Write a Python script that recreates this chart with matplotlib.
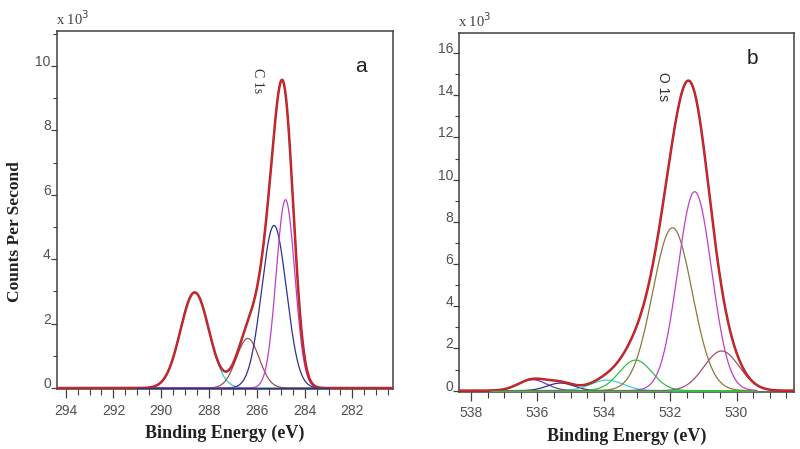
import numpy as np
import matplotlib
matplotlib.use("Agg")
import matplotlib.pyplot as plt
from matplotlib.ticker import MultipleLocator

# C 1s peak fit (panel a), intensities in x10^3 counts/s
c1s_center = [288.60, 286.38, 285.28, 284.80]
c1s_height = [2.97, 1.54, 5.05, 5.85]
c1s_fwhm = [1.40, 1.12, 1.22, 0.92]
c1s_colors = ["#30d0c8", "#a0504c", "#303090", "#c040c8"]

# O 1s peak fit (panel b)
o1s_center = [536.15, 535.30, 533.90, 533.04, 531.93, 531.26, 530.45]
o1s_height = [0.52, 0.36, 0.50, 1.45, 7.72, 9.43, 1.88]
o1s_fwhm = [1.00, 0.95, 1.15, 1.15, 1.40, 1.20, 1.25]
o1s_colors = ["#7040a0", "#303080", "#40d0d0", "#30c040", "#8a7a3a", "#c040c8", "#a05070"]

plt.rcParams["font.family"] = ["Liberation Sans", "DejaVu Sans"]
SERIF = ["Liberation Serif", "DejaVu Serif"]


def gauss(x, c, h, w):
    s = w / 2.3548
    return h * np.exp(-(x - c) ** 2 / (2 * s * s))


def draw_panel(ax, centers, heights, fwhms, colors, xlim, comp_range, ylim, base_color):
    x = np.linspace(xlim[0], xlim[1], 1500)
    xc = np.linspace(comp_range[0], comp_range[1], 1000)
    total = np.zeros_like(x)
    for c, h, w in zip(centers, heights, fwhms):
        total += gauss(x, c, h, w)
    for c, h, w, col in zip(centers, heights, fwhms, colors):
        ax.plot(xc, gauss(xc, c, h, w), color=col, lw=0.9, zorder=2)
    # measured data + envelope
    ax.plot(x, total, color="#9a2a2a", lw=1.8, zorder=4)
    ax.plot(x, total, color="#e8202a", lw=0.8, zorder=5)
    # baseline of the fit components (drawn on top)
    ax.plot(xc, np.zeros_like(xc), color=base_color, lw=1.0, zorder=6)
    ax.set_xlim(xlim)
    ax.set_ylim(ylim)
    ax.xaxis.set_major_locator(MultipleLocator(2))
    ax.xaxis.set_minor_locator(MultipleLocator(0.5))
    ax.yaxis.set_major_locator(MultipleLocator(2))
    ax.yaxis.set_minor_locator(MultipleLocator(1))
    ax.tick_params(axis="x", which="major", length=6.5, width=0.9, color="#404040",
                   labelsize=10, labelcolor="#505050", pad=4)
    ax.tick_params(axis="x", which="minor", length=4, width=0.8, color="#404040")
    ax.tick_params(axis="y", which="major", length=4.5, width=0.9, color="#404040",
                   labelsize=10, labelcolor="#505050", pad=0)
    ax.tick_params(axis="y", which="minor", length=3, width=0.8, color="#404040")
    for lab in ax.get_yticklabels():
        lab.set_verticalalignment("baseline")
    for sp in ax.spines.values():
        sp.set_color("#404040")
        sp.set_linewidth(1.1)
    ax.set_xlabel("Binding Energy (eV)", family=SERIF, fontweight="bold",
                  fontsize=13, color="#202020", labelpad=5)
    ax.text(-0.003, 1.008, r"x 10$^3$", transform=ax.transAxes, ha="left", va="bottom",
            fontsize=10.5, color="#404040", family=SERIF)


fig = plt.figure(figsize=(8.0, 4.49), dpi=100)
ax1 = fig.add_axes([0.0713, 0.1336, 0.4200, 0.7974])
ax2 = fig.add_axes([0.5741, 0.1276, 0.4184, 0.7989])

draw_panel(ax1, c1s_center, c1s_height, c1s_fwhm, c1s_colors,
           (294.36, 280.3), (291.0, 283.0), (-0.03, 11.09), "#303090")
draw_panel(ax2, o1s_center, o1s_height, o1s_fwhm, o1s_colors,
           (538.35, 528.27), (537.4, 529.4), (-0.05, 16.95), "#30c040")

ax1.text(285.99, 9.94, "C 1s", rotation=270, ha="center", va="top", fontsize=10,
         color="#303030", family=SERIF)
ax2.text(532.2, 15.1, "O 1s", rotation=270, ha="center", va="top", fontsize=10,
         color="#303030")
ax1.text(0.905, 0.902, "a", transform=ax1.transAxes, fontsize=15, color="#202020",
         ha="center", va="center")
ax2.text(0.877, 0.93, "b", transform=ax2.transAxes, fontsize=15, color="#202020",
         ha="center", va="center")

fig.text(0.019, 0.485, "Counts Per Second", rotation=90, ha="center", va="center",
         fontsize=12.5, fontweight="bold", color="#202020", family=SERIF)

fig.savefig("out.png", dpi=100, facecolor="white")
